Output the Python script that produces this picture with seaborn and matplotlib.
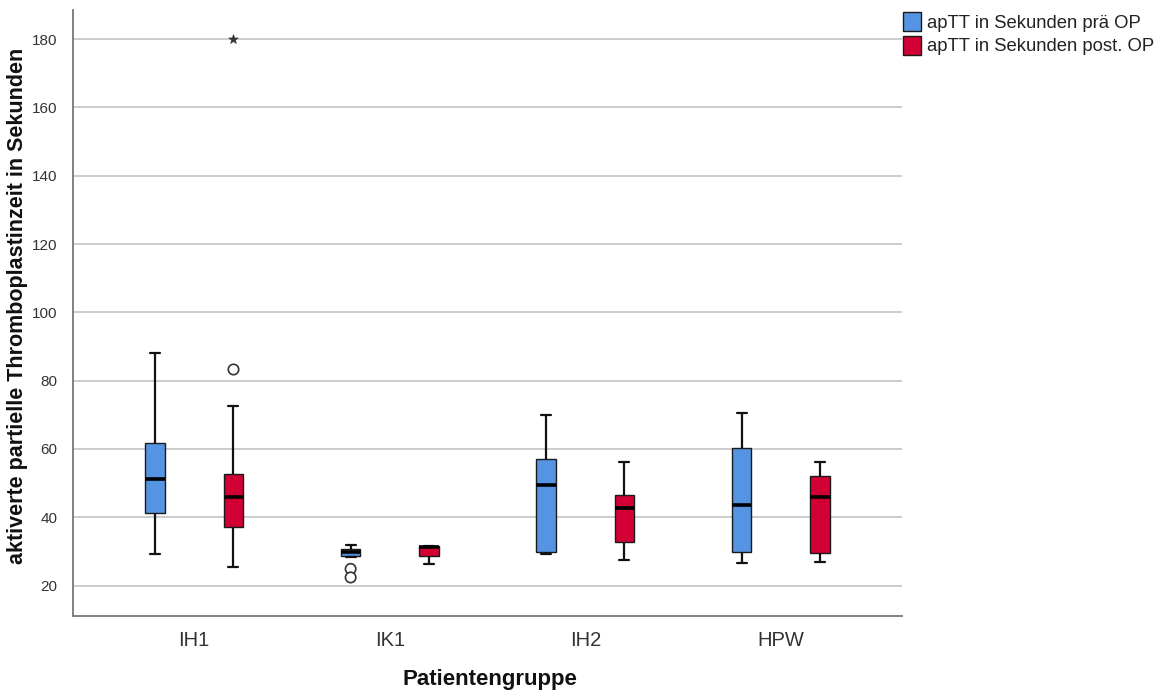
import numpy as np
import pandas as pd
import matplotlib
matplotlib.use("Agg")
import matplotlib.pyplot as plt
import seaborn as sns

# ---- data (reconstructed samples reproducing the box statistics) ----
groups = ["IH1", "IK1", "IH2", "HPW"]
conds = ["apTT in Sekunden prä OP", "apTT in Sekunden post. OP"]

ih1_pre = [29.2, 38.0, 41.3, 47.0, 51.3, 56.0, 61.8, 75.0, 88.2]
ih1_post = [25.6, 31.0, 35.0, 37.1, 41.0, 44.0, 45.8, 48.0, 51.0, 52.6, 72.6, 83.5, 180.0]
ik1_pre = [22.4, 24.9, 28.5, 28.8, 29.2, 29.5, 29.8, 30.1, 30.4, 30.7, 31.2, 31.6, 32.0]
ik1_post = [26.3, 28.0, 28.8, 30.0, 31.2, 31.4, 31.6, 31.6, 31.6]
ih2_pre = [29.4, 29.6, 29.8, 40.0, 49.5, 53.0, 57.1, 63.0, 69.9]
ih2_post = [27.6, 30.0, 32.8, 38.0, 42.7, 44.5, 46.6, 51.0, 56.1]
hpw_pre = [26.7, 28.5, 29.9, 36.0, 43.6, 52.0, 60.4, 65.0, 70.6]
hpw_post = [26.8, 28.0, 29.6, 38.0, 46.0, 49.0, 52.1, 54.0, 56.2]

# outliers (circles) and extremes (stars), as shown by SPSS
out_groups = ["IH1", "IK1", "IK1"]
out_conds = [conds[1], conds[0], conds[0]]
out_values = [83.5, 24.9, 22.4]
ext_groups = ["IH1"]
ext_conds = [conds[1]]
ext_values = [180.0]

colors = ["#5594E2", "#D20034"]

# ---- build long-form table ----
series = {
    ("IH1", conds[0]): ih1_pre, ("IH1", conds[1]): ih1_post,
    ("IK1", conds[0]): ik1_pre, ("IK1", conds[1]): ik1_post,
    ("IH2", conds[0]): ih2_pre, ("IH2", conds[1]): ih2_post,
    ("HPW", conds[0]): hpw_pre, ("HPW", conds[1]): hpw_post,
}
rows = []
for (g, c), vals in series.items():
    for v in vals:
        rows.append({"group": g, "cond": c, "value": v})
df = pd.DataFrame(rows)
out_df = pd.DataFrame({"group": out_groups, "cond": out_conds, "value": out_values})
ext_df = pd.DataFrame({"group": ext_groups, "cond": ext_conds, "value": ext_values})

sns.set_style("white")
plt.rcParams["font.family"] = ["Liberation Sans", "DejaVu Sans"]

fig = plt.figure(figsize=(11.59, 6.98), dpi=100)
ax = fig.add_axes([73 / 1159, 82.3 / 698, 829 / 1159, 605.7 / 698])

ax.yaxis.grid(True, color="#c8c8c8", linewidth=1.3)
ax.set_axisbelow(True)

palette = dict(zip(conds, colors))
sns.boxplot(
    data=df, x="group", y="value", hue="cond", order=groups, hue_order=conds,
    palette=palette, saturation=1, width=0.8, gap=0.75, dodge=True,
    showfliers=False, linecolor="#1a1a1a", linewidth=1.0,
    whiskerprops=dict(linewidth=1.6, color="#111111"),
    capprops=dict(linewidth=1.6, color="#111111"),
    medianprops=dict(linewidth=2.6, color="black"),
    ax=ax,
)

sns.stripplot(
    data=out_df, x="group", y="value", hue="cond", order=groups, hue_order=conds,
    palette={c: "white" for c in conds}, dodge=True, jitter=False, marker="o",
    size=7.5, edgecolor="#333333", linewidth=1.2, legend=False, ax=ax, zorder=5,
)
sns.stripplot(
    data=ext_df, x="group", y="value", hue="cond", order=groups, hue_order=conds,
    palette={c: "#333333" for c in conds}, dodge=True, jitter=False, marker="*",
    size=7, edgecolor="#333333", linewidth=0.5, legend=False, ax=ax, zorder=5,
)

ax.set_xlim(-0.62, 3.62)
ax.set_ylim(11.2, 188.5)
ax.set_yticks(np.arange(20, 181, 20))

for s in ["top", "right"]:
    ax.spines[s].set_visible(False)
for s in ["left", "bottom"]:
    ax.spines[s].set_color("#777777")
    ax.spines[s].set_linewidth(1.3)

ax.tick_params(axis="y", length=0, pad=11, labelsize=11, labelcolor="#333333")
ax.tick_params(axis="x", length=0, pad=11, labelsize=14.5, labelcolor="#333333")

ax.set_xlabel("Patientengruppe", fontsize=16, fontweight="bold", color="#111111")
ax.set_ylabel("aktiverte partielle Thromboplastinzeit in Sekunden", fontsize=15.5,
              fontweight="bold", color="#111111")
ax.xaxis.set_label_coords(0.5026, -0.088)
ax.yaxis.set_label_coords(-0.0545, 0.511)

handles, labels = ax.get_legend_handles_labels()
leg = ax.legend(handles[:2], labels[:2], loc="upper left",
                bbox_to_anchor=(903 / 1159, 1 - 12 / 698), bbox_transform=fig.transFigure,
                frameon=False, fontsize=13.3, handlelength=1.0, handleheight=1.2,
                handletextpad=0.3, labelspacing=0.22, borderpad=0, borderaxespad=0)
for t in leg.get_texts():
    t.set_color("#222222")

fig.savefig("out.png", dpi=100)
